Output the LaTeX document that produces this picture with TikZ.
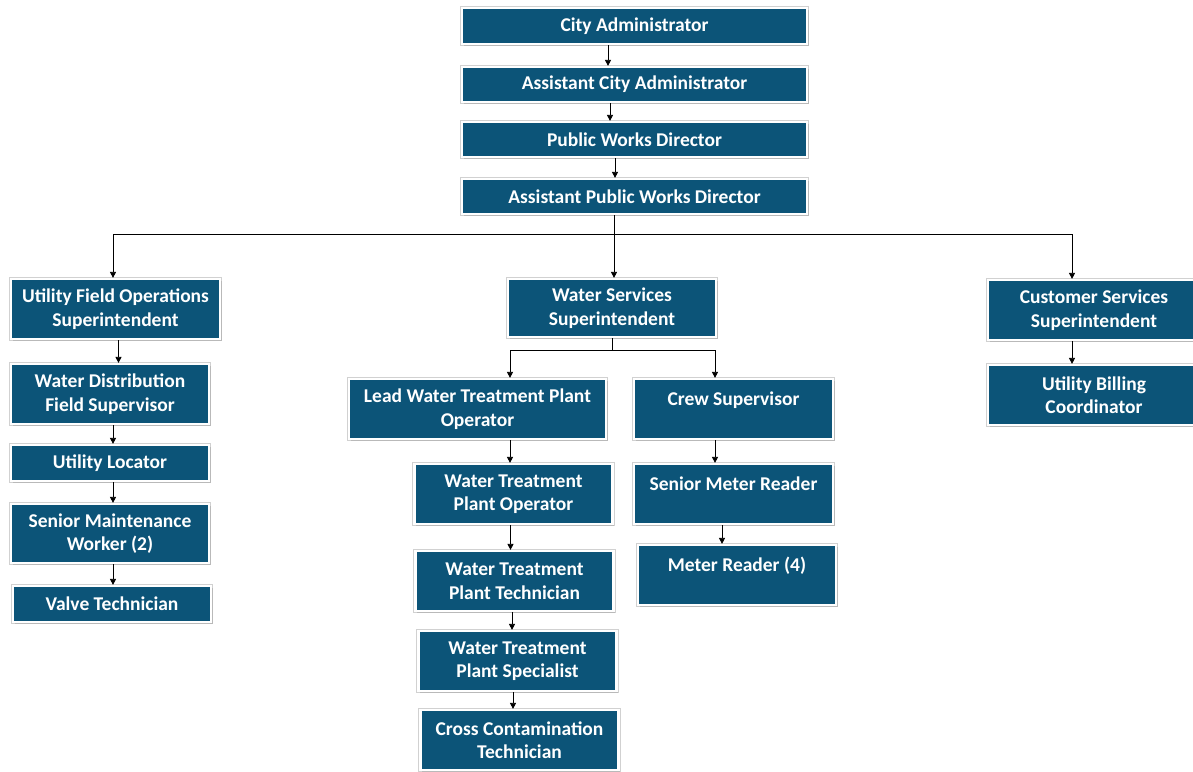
\documentclass[tikz,border=0pt]{standalone}
\usepackage{fontspec}
\setmainfont{Carlito}
\usetikzlibrary{arrows.meta,shadows}
\definecolor{boxfill}{RGB}{12,84,120}
\begin{document}
\begin{tikzpicture}[x=1pt,y=-1pt,
  box/.style={rectangle, fill=boxfill, draw=white, line width=2.2pt,
    preaction={draw=black!18, line width=4.6pt},
    text=white, font=\fontsize{19.5}{23.5}\selectfont\bfseries, align=center,
    inner sep=0pt, minimum width=#1,
    drop shadow={shadow xshift=1.5pt, shadow yshift=-2.2pt, fill=black!35, opacity=0.55}},
  box/.default=198,
  link/.style={line width=0.8pt, draw=black},
  arr/.style={link, -{Triangle[length=6pt,width=6pt]}}]
\useasboundingbox (0,0) rectangle (1193,771);

% executive chain
\node[box=345, minimum height=36] (ca)   at (634.5,26)   {City Administrator};
\node[box=345, minimum height=35] (aca)  at (634.5,84.5) {Assistant City Administrator};
\node[box=345, minimum height=35] (pwd)  at (634.5,139.5){Public Works Director};
\node[box=345, minimum height=35] (apwd) at (634.5,196.5){Assistant Public Works Director};

% superintendents
\node[box=209, minimum height=60] (ufos) at (115.5,309) {Utility Field Operations\\Superintendent};
\node[box=208, minimum height=58] (wss)  at (612,308)   {Water Services\\Superintendent};
\node[box=212, minimum height=60] (css)  at (1094,310)  {Customer Services\\Superintendent};

% field operations column
\node[box, minimum height=60] (wdfs) at (110,394)   {Water Distribution\\Field Supervisor};
\node[box, minimum height=36] (ul)   at (110,463)   {Utility Locator};
\node[box, minimum height=59] (smw)  at (110,533.5) {Senior Maintenance\\Worker (2)};
\node[box, minimum height=36] (vt)   at (112,604)   {Valve Technician};

% water treatment column
\node[box=257, minimum height=60] (lwtpo) at (477.5,409) {Lead Water Treatment Plant\\Operator};
\node[box, minimum height=60] (wtpo) at (513.5,494) {Water Treatment\\Plant Operator};
\node[box, minimum height=60] (wtpt) at (514.5,581) {Water Treatment\\Plant Technician};
\node[box, minimum height=60] (wtps) at (517.5,661) {Water Treatment\\Plant Specialist};
\node[box, minimum height=60] (cct)  at (519.5,740) {Cross Contamination\\Technician};

% meter column: titles sit in the upper part of the box
\node[box=199, minimum height=60] (cs)  at (733.5,409) {Crew Supervisor\\[-9pt]\strut};
\node[box=199, minimum height=60] (smr) at (733.5,494) {Senior Meter Reader\\[-9pt]\strut};
\node[box=198, minimum height=60] (mr)  at (737,575)   {Meter Reader (4)\\[-9pt]\strut};

% customer services column
\node[box=212, minimum height=60] (ubc) at (1094,395) {Utility Billing\\Coordinator};

% executive chain links
\draw[arr] ([xshift=-26.5]ca.south)  -- ([xshift=-26.5]aca.north);
\draw[arr] ([xshift=-24.5]aca.south) -- ([xshift=-24.5]pwd.north);
\draw[arr] ([xshift=-19.5]pwd.south) -- ([xshift=-19.5]apwd.north);

% distribution bus below the assistant director
\coordinate (bus) at (614,234);
\draw[link] (bus |- apwd.south) -- (bus);
\draw[arr] (bus) -| ([xshift=-2.5]ufos.north);
\draw[arr] (bus) -- (bus |- wss.north);
\draw[arr] (bus) -| ([xshift=-22]css.north);

% water services split
\coordinate (split) at (612,350);
\draw[link] (wss.south) -- (split);
\draw[arr] (split) -| ([xshift=32.5]lwtpo.north);
\draw[arr] (split) -| ([xshift=-18.5]cs.north);

% field operations chain
\draw[arr] ([xshift=3]ufos.south) -- ([xshift=3]ufos.south |- wdfs.north);
\draw[arr] ([xshift=3]wdfs.south) -- ([xshift=3]ul.north);
\draw[arr] ([xshift=3]ul.south)   -- ([xshift=3]smw.north);
\draw[arr] ([xshift=3]smw.south)  -- ([xshift=3]smw.south |- vt.north);

% water treatment chain
\draw[arr] ([xshift=32.5]lwtpo.south) -- ([xshift=32.5]lwtpo.south |- wtpo.north);
\draw[arr] ([xshift=-3]wtpo.south) -- ([xshift=-3]wtpo.south |- wtpt.north);
\draw[arr] ([xshift=-2.5]wtpt.south) -- ([xshift=-2.5]wtpt.south |- wtps.north);
\draw[arr] ([xshift=-4.5]wtps.south) -- ([xshift=-4.5]wtps.south |- cct.north);

% meter chain
\draw[arr] ([xshift=-18.5]cs.south)  -- ([xshift=-18.5]cs.south |- smr.north);
\draw[arr] ([xshift=-11.5]smr.south) -- ([xshift=-11.5]smr.south |- mr.north);

% customer services chain
\draw[arr] ([xshift=-22]css.south) -- ([xshift=-22]ubc.north);
\end{tikzpicture}
\end{document}
